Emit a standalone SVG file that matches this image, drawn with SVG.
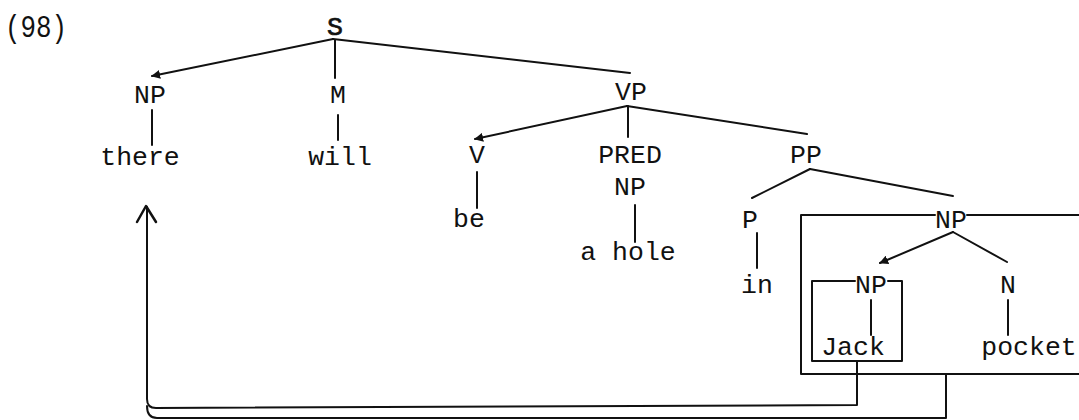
<svg xmlns="http://www.w3.org/2000/svg" width="1079" height="420" viewBox="0 0 1079 420">
<style>
text{font-family:"Liberation Mono","DejaVu Sans Mono",monospace;font-size:26.5px;fill:#111;text-anchor:middle}
.l{stroke:#111;stroke-width:2;fill:none;stroke-linecap:round;stroke-linejoin:round}
</style>
<defs>
<marker id="ah" viewBox="0 0 10 10" refX="9" refY="5" markerWidth="4.5" markerHeight="4.5" orient="auto" markerUnits="strokeWidth">
<path d="M0,0 L10,5 L0,10 z" fill="#111"/>
</marker>
</defs>
<text x="5" y="37" style="text-anchor:start;font-size:31px" textLength="62" lengthAdjust="spacingAndGlyphs">(98)</text>
<g id="connectors">
<line class="l" x1="333" y1="39" x2="152" y2="76" marker-end="url(#ah)"/>
<line class="l" x1="335" y1="40" x2="335" y2="78"/>
<line class="l" x1="333" y1="39" x2="630" y2="73"/>
<line class="l" x1="152" y1="110" x2="152" y2="145"/>
<line class="l" x1="338" y1="115" x2="338" y2="140"/>
<line class="l" x1="627" y1="106" x2="475" y2="139" marker-end="url(#ah)"/>
<line class="l" x1="628" y1="106" x2="628" y2="137"/>
<line class="l" x1="627" y1="106" x2="807" y2="134"/>
<line class="l" x1="477" y1="172" x2="477" y2="208"/>
<line class="l" x1="635" y1="205" x2="635" y2="242"/>
<line class="l" x1="810" y1="169" x2="752" y2="198"/>
<line class="l" x1="810" y1="169" x2="953" y2="196"/>
<line class="l" x1="757" y1="233" x2="757" y2="268"/>
<line class="l" x1="953" y1="232" x2="880" y2="263" marker-end="url(#ah)"/>
<line class="l" x1="953" y1="232" x2="1007" y2="262"/>
<line class="l" x1="871" y1="300" x2="871" y2="335"/>
<line class="l" x1="1008" y1="300" x2="1008" y2="335"/>
<path class="l" d="M857,361 V405 L156,408 Q147,408 147,399 V207"/>
<path class="l" style="stroke-width:2.5" d="M137,222 L146,206 L156,222"/>
<path class="l" d="M946,374 V418 L157,418 Q147,418 147,406"/>
</g>
<g id="box-np-outer"><path class="l" d="M935,215 H801 V374 H1080 M967,215 H1080"/></g>
<g id="box-np-inner"><path class="l" d="M855,281 H812 V361 H902 V281 H888"/></g>
<g id="n-S"><text x="335" y="35" style="stroke:#111;stroke-width:0.7">S</text></g>
<g id="n-NP1"><text x="150" y="103">NP</text></g>
<g id="n-M"><text x="338" y="103">M</text></g>
<g id="n-VP"><text x="631" y="100">VP</text></g>
<g id="n-there"><text x="140" y="165">there</text></g>
<g id="n-will"><text x="340" y="165">will</text></g>
<g id="n-V"><text x="477" y="163">V</text></g>
<g id="n-PRED"><text x="630" y="163">PRED</text><text x="630" y="195">NP</text></g>
<g id="n-PP"><text x="806" y="163">PP</text></g>
<g id="n-be"><text x="469" y="227">be</text></g>
<g id="n-ahole"><text x="628" y="260">a hole</text></g>
<g id="n-P"><text x="750" y="228">P</text></g>
<g id="n-in"><text x="757" y="293">in</text></g>
<g id="n-NP2"><text x="951" y="228">NP</text></g>
<g id="n-NP3"><text x="871" y="293">NP</text></g>
<g id="n-N"><text x="1008" y="293">N</text></g>
<g id="n-Jack"><text x="853" y="355">Jack</text></g>
<g id="n-pocket"><text x="1029" y="355">pocket</text></g>
</svg>
